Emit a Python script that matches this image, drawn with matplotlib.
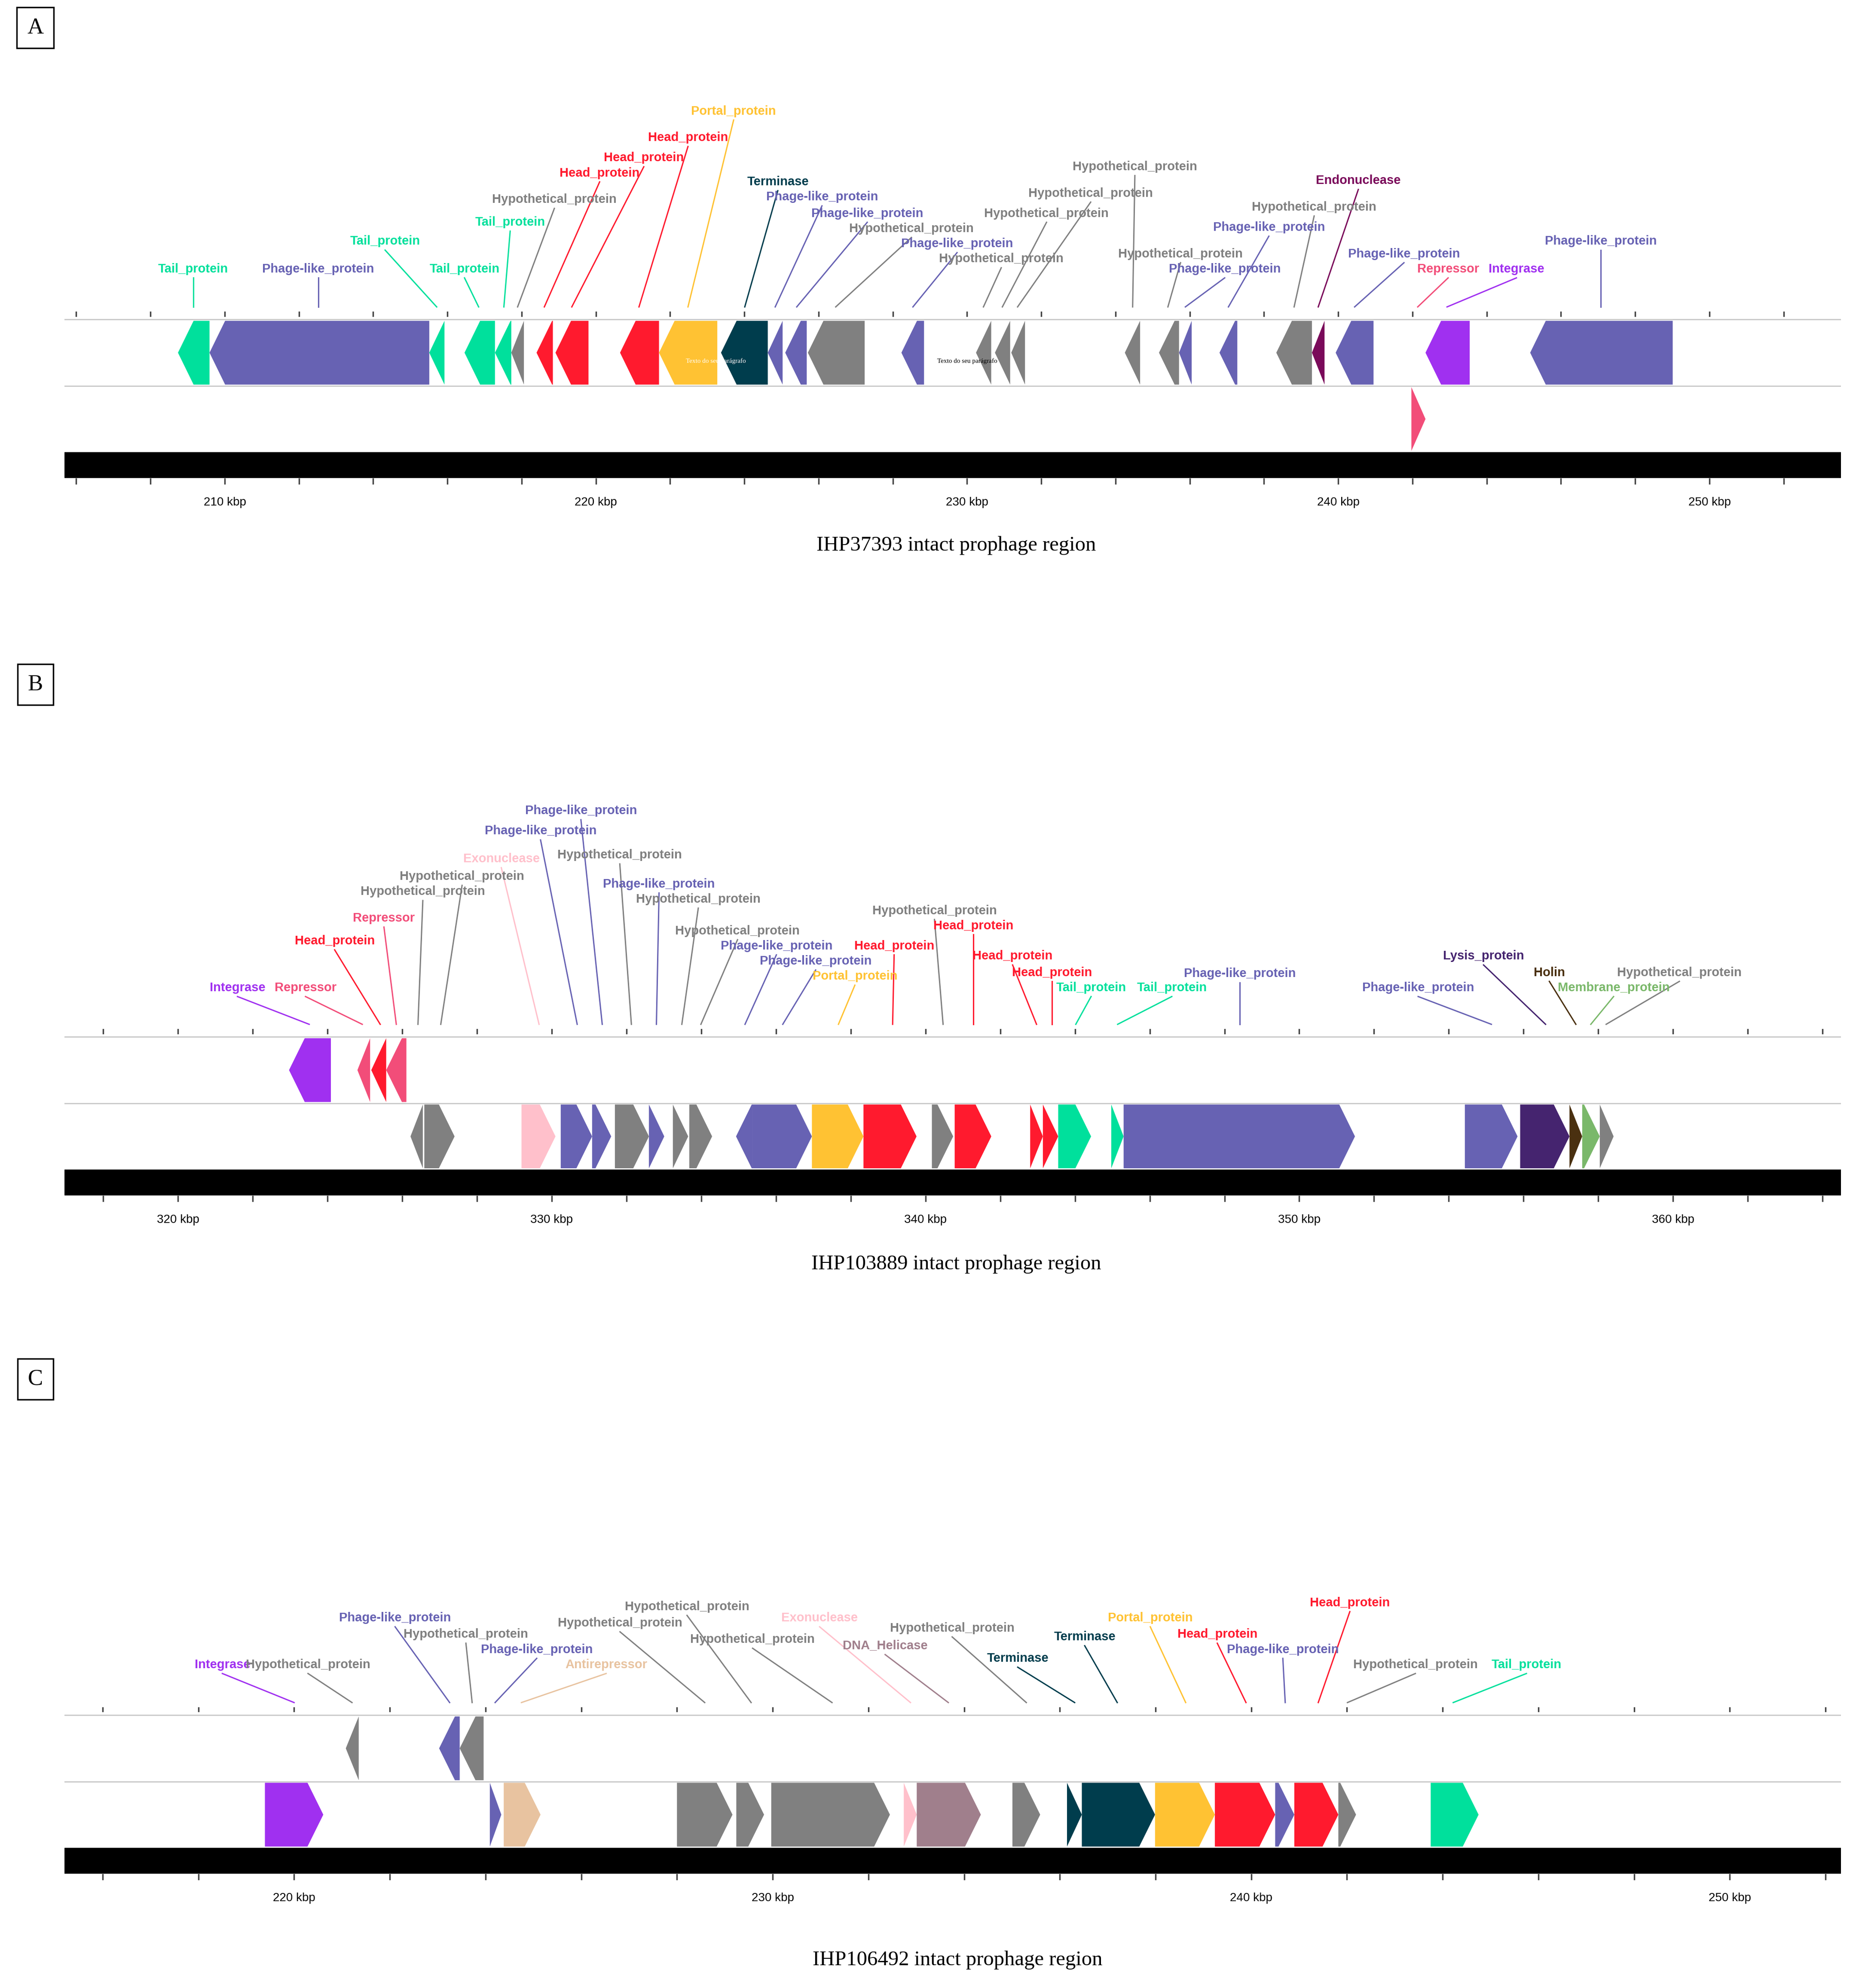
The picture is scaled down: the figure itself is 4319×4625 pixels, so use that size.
import matplotlib
matplotlib.use("Agg")
import matplotlib.pyplot as plt
from matplotlib.patches import Polygon, Rectangle

COL = {"tail": "#00e09c", "phage": "#6762b3", "hyp": "#808080", "head": "#ff1a2e",
       "portal": "#ffc233", "term": "#003d4d", "endo": "#7a0a5a", "rep": "#f24d79",
       "int": "#a030f0", "exo": "#ffc0cb", "anti": "#e8c3a0", "heli": "#a07f8c",
       "lysis": "#45246f", "holin": "#4a3010", "memb": "#7ab86a"}

# ---- Panel A data (kbp) ----
A_start = [208.74, 209.59, 215.51, 216.46, 217.28, 217.72, 218.40, 218.91, 220.65, 221.70, 223.37, 224.63,
           225.10, 225.71, 228.23, 230.24, 230.75, 231.19, 234.25, 235.17, 235.71, 236.80, 238.33, 239.29,
           239.93, 241.97, 242.35, 245.17]
A_end = [209.59, 215.51, 215.92, 217.28, 217.72, 218.06, 218.84, 219.80, 221.70, 223.27, 224.63, 225.03,
         225.68, 227.24, 228.84, 230.65, 231.16, 231.56, 234.66, 235.71, 236.05, 237.28, 239.29, 239.63,
         240.95, 242.35, 243.54, 249.01]
A_strand = [-1]*25 + [1, -1, -1]
A_lane = [0]*25 + [1, 0, 0]
A_type = ["tail", "phage", "tail", "tail", "tail", "hyp", "head", "head", "head", "portal", "term", "phage",
          "phage", "hyp", "phage", "hyp", "hyp", "hyp", "hyp", "hyp", "phage", "phage", "hyp", "endo",
          "phage", "rep", "int", "phage"]
A_lab = ["Tail_protein", "Phage-like_protein", "Tail_protein", "Tail_protein", "Tail_protein",
         "Hypothetical_protein", "Head_protein", "Head_protein", "Head_protein", "Portal_protein", "Terminase",
         "Phage-like_protein", "Phage-like_protein", "Hypothetical_protein", "Phage-like_protein",
         "Hypothetical_protein", "Hypothetical_protein", "Hypothetical_protein", "Hypothetical_protein",
         "Hypothetical_protein", "Phage-like_protein", "Phage-like_protein", "Hypothetical_protein",
         "Endonuclease", "Phage-like_protein", "Repressor", "Integrase", "Phage-like_protein"]
A_labtype = ["tail", "phage", "tail", "tail", "tail", "hyp", "head", "head", "head", "portal", "term", "phage",
             "phage", "hyp", "phage", "hyp", "hyp", "hyp", "hyp", "hyp", "phage", "phage", "hyp", "endo",
             "phage", "rep", "int", "phage"]
A_labx = [209.15, 212.52, 214.32, 216.46, 217.69, 218.88, 220.10, 221.29, 222.48, 223.71, 224.90, 226.09,
          227.31, 228.50, 229.73, 230.92, 232.14, 233.33, 234.52, 235.75, 236.94, 238.13, 239.35, 240.54,
          241.77, 242.96, 244.80, 247.07]
A_tgt = [209.15, 212.52, 215.71, 216.84, 217.52, 217.89, 218.61, 219.35, 221.16, 222.48, 224.01, 224.83,
         225.41, 226.46, 228.54, 230.44, 230.95, 231.36, 234.46, 235.41, 235.88, 237.04, 238.81, 239.46,
         240.44, 242.14, 242.93, 247.07]
A_laby = [213, 213, 191, 213, 176, 158, 137, 125, 109, 88, 144, 156, 169, 181, 193, 205, 169, 153, 132, 201,
          213, 180, 164, 143, 201, 213, 213, 191]

# ---- Panel B data ----
B_start = [322.97, 324.80, 325.17, 325.57, 326.22, 326.59, 329.19, 330.24, 331.08, 331.69, 332.60, 333.24,
           333.68, 334.93, 335.37, 336.96, 338.34, 340.17, 340.78, 342.80, 343.14, 343.55, 344.97, 345.30,
           354.43, 355.91, 357.23, 357.57, 358.04]
B_end = [324.09, 325.14, 325.57, 326.11, 326.55, 327.40, 330.10, 331.08, 331.59, 332.60, 333.01, 333.65,
         334.29, 335.37, 336.96, 338.34, 339.76, 340.74, 341.76, 343.14, 343.55, 344.43, 345.30, 351.49,
         355.84, 357.23, 357.57, 358.04, 358.41]
B_strand = [-1, -1, -1, -1, -1] + [1]*8 + [-1] + [1]*15
B_lane = [0, 0, 0, 0] + [1]*25
B_type = ["int", "rep", "head", "rep", "hyp", "hyp", "exo", "phage", "phage", "hyp", "phage", "hyp", "hyp",
          "phage", "phage", "portal", "head", "hyp", "head", "head", "head", "tail", "tail", "phage", "phage",
          "lysis", "holin", "memb", "hyp"]
B_lab = ["Integrase", "Repressor", "Head_protein", "Repressor", "Hypothetical_protein", "Hypothetical_protein",
         "Exonuclease", "Phage-like_protein", "Phage-like_protein", "Hypothetical_protein", "Phage-like_protein",
         "Hypothetical_protein", "Hypothetical_protein", "Phage-like_protein", "Phage-like_protein",
         "Portal_protein", "Head_protein", "Hypothetical_protein", "Head_protein", "Head_protein", "Head_protein",
         "Tail_protein", "Tail_protein", "Phage-like_protein", "Phage-like_protein", "Lysis_protein", "Holin",
         "Membrane_protein", "Hypothetical_protein"]
B_labtype = B_type
B_labx = [321.59, 323.41, 324.19, 325.51, 326.55, 327.60, 328.65, 329.70, 330.78, 331.82, 332.87, 333.92,
          334.97, 336.01, 337.06, 338.11, 339.16, 340.24, 341.28, 342.33, 343.38, 344.43, 346.59, 348.41,
          353.18, 354.93, 356.69, 358.41, 360.17]
B_tgt = [323.51, 324.93, 325.41, 325.84, 326.42, 327.03, 329.66, 330.68, 331.35, 332.13, 332.80, 333.48,
         333.99, 335.17, 336.18, 337.67, 339.12, 340.47, 341.28, 342.97, 343.38, 344.02, 345.14, 348.41,
         355.14, 356.59, 357.40, 357.80, 358.21]
B_laby = [782, 782, 745, 727, 706, 694, 680, 658, 642, 677, 700, 712, 737, 749, 761, 773, 749, 721, 733, 757,
          770, 782, 782, 771, 782, 757, 770, 782, 770]

# ---- Panel C data ----
C_start = [221.08, 223.03, 223.46, 219.39, 224.09, 224.38, 228.00, 229.24, 229.97, 232.74, 233.01, 235.01,
           236.15, 236.46, 237.99, 239.24, 240.50, 240.90, 241.82, 243.75]
C_end = [221.35, 223.46, 223.96, 220.61, 224.33, 225.15, 229.16, 229.82, 232.45, 233.01, 234.35, 235.59,
         236.46, 237.99, 239.24, 240.50, 240.90, 241.82, 242.19, 244.75]
C_strand = [-1, -1, -1] + [1]*17
C_lane = [0, 0, 0] + [1]*17
C_type = ["hyp", "phage", "hyp", "int", "phage", "anti", "hyp", "hyp", "hyp", "exo", "heli", "hyp", "term",
          "term", "portal", "head", "phage", "head", "hyp", "tail"]
C_lab = ["Integrase", "Hypothetical_protein", "Phage-like_protein", "Hypothetical_protein", "Phage-like_protein",
         "Antirepressor", "Hypothetical_protein", "Hypothetical_protein", "Hypothetical_protein", "Exonuclease",
         "DNA_Helicase", "Hypothetical_protein", "Terminase", "Terminase", "Portal_protein", "Head_protein",
         "Phage-like_protein", "Head_protein", "Hypothetical_protein", "Tail_protein"]
C_labtype = ["int", "hyp", "phage", "hyp", "phage", "anti", "hyp", "hyp", "hyp", "exo", "heli", "hyp", "term",
             "term", "portal", "head", "phage", "head", "hyp", "tail"]
C_labx = [218.50, 220.29, 222.11, 223.59, 225.07, 226.52, 226.81, 228.21, 229.58, 230.98, 232.35, 233.75,
          235.12, 236.52, 237.89, 239.29, 240.66, 242.06, 243.43, 245.75]
C_tgt = [220.00, 221.21, 223.25, 223.72, 224.20, 224.75, 228.58, 229.55, 231.24, 232.88, 233.67, 235.30,
         236.31, 237.20, 238.63, 239.89, 240.71, 241.40, 242.01, 244.22]
C_laby = [1318, 1318, 1281, 1294, 1306, 1318, 1285, 1272, 1298, 1281, 1303, 1289, 1313, 1296, 1281, 1294,
          1306, 1269, 1318, 1318]

PANELS = [
    dict(letter="A", band=(0, 520), xlim=(205.68, 253.54), lane=253, ticks=range(206, 254, 2),
         major=[210, 220, 230, 240, 250], title="IHP37393 intact prophage region", titley=432,
         s=A_start, e=A_end, st=A_strand, ln=A_lane, ty=A_type, lab=A_lab, lt=A_labtype, lx=A_labx,
         tg=A_tgt, ly=A_laby, head=0.42),
    dict(letter="B", band=(520, 1070), xlim=(316.96, 364.49), lane=821, ticks=range(318, 365, 2),
         major=[320, 330, 340, 350, 360], title="IHP103889 intact prophage region", titley=1001,
         s=B_start, e=B_end, st=B_strand, ln=B_lane, ty=B_type, lab=B_lab, lt=B_labtype, lx=B_labx,
         tg=B_tgt, ly=B_laby, head=0.42),
    dict(letter="C", band=(1070, 1574), xlim=(215.20, 252.32), lane=1358, ticks=range(216, 253, 2),
         major=[220, 230, 240, 250], title="IHP106492 intact prophage region", titley=1552,
         s=C_start, e=C_end, st=C_strand, ln=C_lane, ty=C_type, lab=C_lab, lt=C_labtype, lx=C_labx,
         tg=C_tgt, ly=C_laby, head=0.33),
]

W, H = 1470, 1574
fig = plt.figure(figsize=(43.19, 46.25), dpi=100)
fig.patch.set_facecolor("white")
bold = dict(fontfamily="Liberation Sans", fontweight="bold", fontsize=21)

for p in PANELS:
    y0, y1 = p["band"]
    ax = fig.add_axes([51 / W, 1 - y1 / H, (1458 - 51) / W, (y1 - y0) / H])
    ax.set_xlim(*p["xlim"])
    ax.set_ylim(y1, y0)
    ax.axis("off")
    L = p["lane"]
    lh = 52.5
    # lane borders
    ax.axhline(L, color="#c8c8c8", lw=2)
    ax.axhline(L + lh, color="#c8c8c8", lw=2)
    ax.add_patch(Rectangle((p["xlim"][0], L + 2 * lh), p["xlim"][1] - p["xlim"][0], 20, color="black"))
    # ticks
    for t in p["ticks"]:
        ax.plot([t, t], [L - 6, L - 3], color="#444444", lw=2.5)
        ax.plot([t, t], [L + 2 * lh + 21, L + 2 * lh + 25], color="#444444", lw=2.5)
    for t in p["major"]:
        ax.text(t, L + 2 * lh + 40, f"{t} kbp", ha="center", va="center", fontsize=20,
                fontfamily="Liberation Sans")
    # genes
    for s, e, st, ln, ty in zip(p["s"], p["e"], p["st"], p["ln"], p["ty"]):
        top = L + ln * lh + 1
        bot = top + lh - 2
        mid = (top + bot) / 2
        hl = min(p["head"], e - s)
        if st > 0:
            pts = [(s, top), (e - hl, top), (e, mid), (e - hl, bot), (s, bot)]
        else:
            pts = [(e, top), (s + hl, top), (s, mid), (s + hl, bot), (e, bot)]
        ax.add_patch(Polygon(pts, closed=True, facecolor=COL[ty], edgecolor="none"))
    # labels
    for lab, lt, lx, tg, ly in zip(p["lab"], p["lt"], p["lx"], p["tg"], p["ly"]):
        c = COL[lt]
        ax.text(lx, ly, lab, ha="center", va="center", color=c, **bold)
        ax.plot([lx, tg], [ly + 7, L - 10], color=c, lw=2.2)
    ax.text(sum(p["xlim"]) / 2 + 0.1, p["titley"], p["title"], ha="center", va="center", fontsize=35,
            fontfamily="Liberation Serif")
    # panel letter box
    fig.text(28 / W, 1 - (y0 + 22) / H if y0 else 1 - 22 / H, p["letter"], ha="center", va="center",
             fontsize=38, fontfamily="Liberation Serif",
             bbox=dict(boxstyle="square,pad=0.45", facecolor="white", edgecolor="black", lw=2.5))
    if p["letter"] == "A":
        ax.text(223.23, 286, "Texto do seu parágrafo", ha="center", va="center", fontsize=11,
                color="white", fontfamily="Liberation Serif")
        ax.text(230.0, 286, "Texto do seu parágrafo", ha="center", va="center", fontsize=11,
                color="black", fontfamily="Liberation Serif")

fig.savefig("out.png", dpi=100, facecolor="white")
